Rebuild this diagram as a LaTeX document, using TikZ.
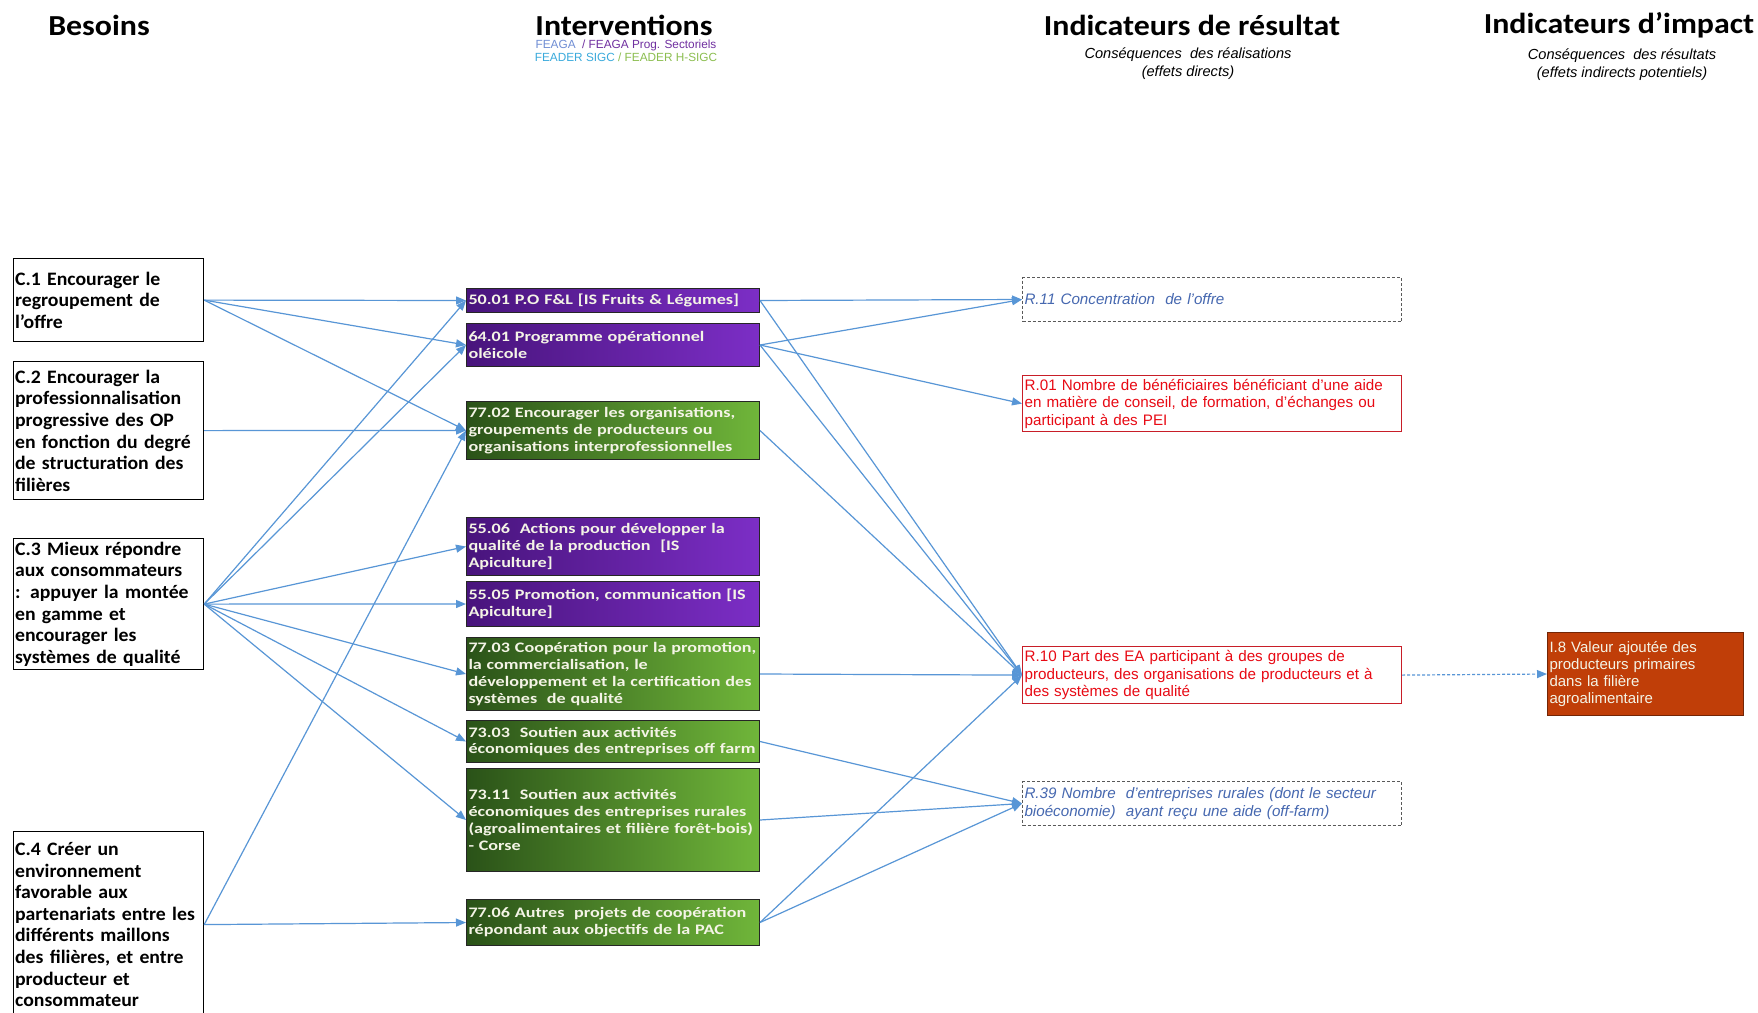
\documentclass[tikz,border=0pt]{standalone}
\usepackage{fontspec}
\setmainfont{Liberation Sans}
\newfontfamily\titrefont[FakeStretch=1.1]{Carlito}
\newfontfamily\besoinfont[FakeStretch=1.04]{Carlito}
\newfontfamily\intervfont[FakeStretch=1.25]{Carlito}
\usetikzlibrary{arrows.meta}
\hyphenpenalty=10000
\exhyphenpenalty=10000

\definecolor{fleche}{RGB}{88,150,214}
\definecolor{violetA}{RGB}{72,20,124}
\definecolor{violetB}{RGB}{124,46,198}
\definecolor{vertA}{RGB}{42,82,24}
\definecolor{vertB}{RGB}{112,182,58}
\definecolor{rouge}{RGB}{232,10,20}
\definecolor{rougebord}{RGB}{200,30,40}
\definecolor{bleutexte}{RGB}{70,104,176}
\definecolor{brique}{RGB}{192,62,8}
\definecolor{blanccasse}{RGB}{244,244,230}
\definecolor{feaga}{RGB}{112,142,212}
\definecolor{feagaps}{RGB}{112,48,160}
\definecolor{sigc}{RGB}{58,170,220}
\definecolor{hsigc}{RGB}{140,190,80}

\tikzset{
  titre/.style={font=\titrefont\bfseries\fontsize{29}{32}\selectfont, inner sep=0pt},
  soustitre/.style={font=\itshape\fontsize{14.6}{18}\selectfont, align=center, inner sep=0pt},
  besoin/.style={draw=black, line width=1.2pt, anchor=north west, inner xsep=1.5pt, inner ysep=0pt,
    minimum width=190pt, text width=187pt, align=left,
    font=\besoinfont\bfseries\fontsize{19}{21.6}\selectfont},
  interv/.style={draw=black!85, line width=1pt, anchor=north west, inner xsep=2pt, inner ysep=0pt,
    minimum width=293pt, text width=289pt, align=left, text=blanccasse,
    font=\intervfont\bfseries\fontsize{14.5}{16.8}\selectfont},
  violet/.style={interv, left color=violetA, right color=violetB},
  vert/.style={interv, left color=vertA, right color=vertB},
  resultat/.style={line width=1.2pt, anchor=north west, inner xsep=2pt, inner ysep=0pt,
    minimum width=379pt, text width=375pt, align=left, font=\fontsize{15.2}{17.4}\selectfont},
  rsouhait/.style={resultat, draw=rougebord, text=rouge},
  rpointille/.style={resultat, draw=black!65, line width=1pt, dash pattern=on 3pt off 2pt,
    text=bleutexte, font=\itshape\fontsize{15.2}{17.4}\selectfont},
  impact/.style={fill=brique, draw=brique!60!black, line width=1pt, anchor=north west,
    inner xsep=2pt, inner ysep=0pt, minimum width=196pt, minimum height=83pt,
    text width=192pt, align=left, text=blanccasse, font=\fontsize{15}{16.8}\selectfont},
  lien/.style={draw=fleche, line width=1.2pt, -{Triangle[length=10pt,width=8pt]}},
}

\begin{document}
\begin{tikzpicture}[x=1pt,y=-1pt]
		%%%%% START %%%%%
		\useasboundingbox[fill=white] (0,0) rectangle (1758,1012);
		
		% titres des colonnes
		\node[titre] (tbesoins) at (99,25) {Besoins};
		\node[titre] (tinterv) at (624,25) {Interventions};
		\node[titre] (tresultat) at (1192,25) {Indicateurs de résultat};
		\node[titre] (timpact) at (1619,25) {Indicateurs d’impact};
		\node[inner sep=0pt, align=center, font=\fontsize{11.8}{13.4}\selectfont] (legende) at (626,51)
			{\textcolor{feaga}{FEAGA}\ \ \textcolor{feagaps}{/ FEAGA Prog. Sectoriels}\\
			 \textcolor{sigc}{FEADER SIGC} \textcolor{hsigc}{/ FEADER H-SIGC}};
		\node[soustitre] (sresultat) at (1188,63.5) {Conséquences\ \ des réalisations\\(effets directs)};
		\node[soustitre] (simpact) at (1622,65) {Conséquences\ \ des résultats\\(effets indirects potentiels)};
		
		% besoins
		\node[besoin, minimum height=83pt] (c1) at (13,258)
			{C.1 Encourager le\\regroupement de\\l’offre};
		\node[besoin, minimum height=138pt] (c2) at (13,361)
			{C.2 Encourager la\\professionnalisation\\progressive des OP\\en fonction du degré\\de structuration des\\filières};
		\node[besoin, minimum height=131pt] (c3) at (13,538)
			{C.3 Mieux répondre\\aux consommateurs\\: appuyer la montée\\en gamme et\\encourager les\\systèmes de qualité};
		\node[besoin, minimum height=186pt] (c4) at (13,831)
			{C.4 Créer un\\environnement\\favorable aux\\partenariats entre les\\différents maillons\\des filières, et entre\\producteur et\\consommateur};
		
		% interventions
		\node[violet, minimum height=24pt] (i5001) at (466,288)
			{50.01 P.O F\&L [IS Fruits \& Légumes]};
		\node[violet, minimum height=43pt] (i6401) at (466,323)
			{64.01 Programme opérationnel\\oléicole};
		\node[vert, minimum height=58pt] (i7702) at (466,401)
			{77.02 Encourager les organisations,\\groupements de producteurs ou\\organisations interprofessionnelles};
		\node[violet, minimum height=58pt] (i5506) at (466,517)
			{55.06\ \ Actions pour développer la\\qualité de la production\ \ [IS\\Apiculture]};
		\node[violet, minimum height=45pt] (i5505) at (466,581)
			{55.05 Promotion, communication [IS\\Apiculture]};
		\node[vert, minimum height=73pt] (i7703) at (466,637)
			{77.03 Coopération pour la promotion,\\la commercialisation, le\\développement et la certification des\\systèmes\ \ de qualité};
		\node[vert, minimum height=42pt] (i7303) at (466,720)
			{73.03\ \ Soutien aux activités\\économiques des entreprises off farm};
		\node[vert, minimum height=103pt] (i7311) at (466,768)
			{73.11\ \ Soutien aux activités\\économiques des entreprises rurales\\(agroalimentaires et filière forêt-bois)\\- Corse};
		\node[vert, minimum height=46pt] (i7706) at (466,899)
			{77.06 Autres\ \ projets de coopération\\répondant aux objectifs de la PAC};
		
		% indicateurs de resultat
		\node[rpointille, minimum height=44pt] (r11) at (1022,277)
			{R.11 Concentration\ \ de l’offre};
		\node[rsouhait, minimum height=56pt] (r01) at (1022,375)
			{R.01 Nombre de bénéficiaires bénéficiant d’une aide\\en matière de conseil, de formation, d’échanges ou\\participant à des PEI};
		\node[rsouhait, minimum height=57pt] (r10) at (1022,646)
			{R.10 Part des EA participant à des groupes de\\producteurs, des organisations de producteurs et à\\des systèmes de qualité};
		\node[rpointille, minimum height=44pt] (r39) at (1022,781)
			{R.39 Nombre\ \ d’entreprises rurales (dont le secteur\\bioéconomie)\ \ ayant reçu une aide (off-farm)};
		
		% indicateur d'impact
		\node[impact] (i8) at (1547,632)
			{I.8 Valeur ajoutée des\\producteurs primaires\\dans la filière\\agroalimentaire};
		
		% besoins -> interventions
		\draw[lien] (c1.east) -- (i5001.west);
		\draw[lien] (c1.east) -- (i6401.west);
		\draw[lien] (c1.east) -- (i7702.west);
		\draw[lien] (c2.east) -- (i7702.west);
		\draw[lien] (c3.east) -- (i5001.west);
		\draw[lien] (c3.east) -- (i6401.west);
		\draw[lien] (c3.east) -- (i5506.west);
		\draw[lien] (c3.east) -- (i5505.west);
		\draw[lien] (c3.east) -- (i7703.west);
		\draw[lien] (c3.east) -- (i7303.west);
		\draw[lien] (c3.east) -- (i7311.west);
		\draw[lien] (c4.east) -- (i7702.west);
		\draw[lien] (c4.east) -- (i7706.west);
		
		% interventions -> resultats
		\draw[lien] (i5001.east) -- (r11.west);
		\draw[lien] (i5001.east) -- (r10.west);
		\draw[lien] (i6401.east) -- (r11.west);
		\draw[lien] (i6401.east) -- (r01.west);
		\draw[lien] (i6401.east) -- (r10.west);
		\draw[lien] (i7702.east) -- (r10.west);
		\draw[lien] (i7703.east) -- (r10.west);
		\draw[lien] (i7303.east) -- (r39.west);
		\draw[lien] (i7311.east) -- (r39.west);
		\draw[lien] (i7706.east) -- (r10.west);
		\draw[lien] (i7706.east) -- (r39.west);
		
		% resultat -> impact
		\draw[lien, dash pattern=on 3pt off 2pt] (r10.east) -- (i8.west);
		%%%%% END %%%%%
\end{tikzpicture}
\end{document}
